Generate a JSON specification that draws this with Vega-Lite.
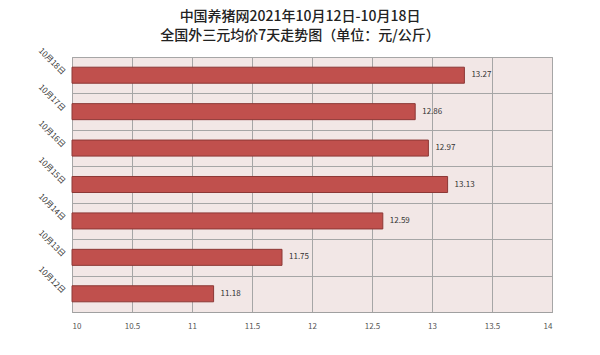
{
  "$schema": "https://vega.github.io/schema/vega-lite/v6.json",
  "width": 480,
  "height": 255,
  "autosize": {"type": "none"},
  "padding": {"left": 72, "top": 57, "right": 48, "bottom": 43},
  "background": "white",
  "title": {
    "text": ["中国养猪网2021年10月12日-10月18日", "全国外三元均价7天走势图（单位：元/公斤）"],
    "font": "Noto Sans CJK SC",
    "fontSize": 14,
    "fontWeight": 500,
    "color": "#222222",
    "lineHeight": 19,
    "anchor": "middle",
    "dx": -12,
    "offset": 4
  },
  "config": {
    "view": {"fill": "#f2e7e6", "stroke": "#a0a0a0", "strokeWidth": 1},
    "axis": {"labelFont": "Noto Sans CJK SC", "labelColor": "#333333", "gridColor": "#a6a6a6", "gridWidth": 1, "domainColor": "#a0a0a0"}
  },
  "data": {
    "values": [
      {"date": "10月12日", "price": 11.18, "base": 10},
      {"date": "10月13日", "price": 11.75, "base": 10},
      {"date": "10月14日", "price": 12.59, "base": 10},
      {"date": "10月15日", "price": 13.13, "base": 10},
      {"date": "10月16日", "price": 12.97, "base": 10},
      {"date": "10月17日", "price": 12.86, "base": 10},
      {"date": "10月18日", "price": 13.27, "base": 10}
    ]
  },
  "encoding": {
    "y": {
      "field": "date",
      "type": "nominal",
      "sort": ["10月18日", "10月17日", "10月16日", "10月15日", "10月14日", "10月13日", "10月12日"],
      "scale": {"paddingInner": 0, "paddingOuter": 0},
      "axis": {
        "title": null,
        "labelAngle": 45,
        "labelAlign": "right",
        "labelBaseline": "middle",
        "labelFontSize": 8,
        "labelPadding": 9,
        "labelOffset": -2,
        "ticks": false,
        "domain": false,
        "grid": true,
        "tickBand": "extent"
      }
    },
    "x": {
      "field": "price",
      "type": "quantitative",
      "scale": {"domain": [10, 14], "zero": false, "nice": false},
      "axis": {
        "title": null,
        "values": [10, 10.5, 11, 11.5, 12, 12.5, 13, 13.5, 14],
        "format": "~g",
        "labelFontSize": 8,
        "labelPadding": 10,
        "labelColor": "#555555",
        "ticks": false,
        "grid": true,
        "domain": true
      }
    }
  },
  "layer": [
    {
      "mark": {"type": "bar", "fill": "#c0504d", "stroke": "#8c3836", "strokeWidth": 1, "height": {"band": 0.44}},
      "encoding": {"x2": {"field": "base"}}
    },
    {
      "mark": {"type": "text", "align": "left", "dx": 7, "font": "Noto Sans CJK SC", "fontSize": 8, "color": "#333333"},
      "encoding": {"text": {"field": "price", "type": "quantitative", "format": ".2f"}}
    }
  ]
}
